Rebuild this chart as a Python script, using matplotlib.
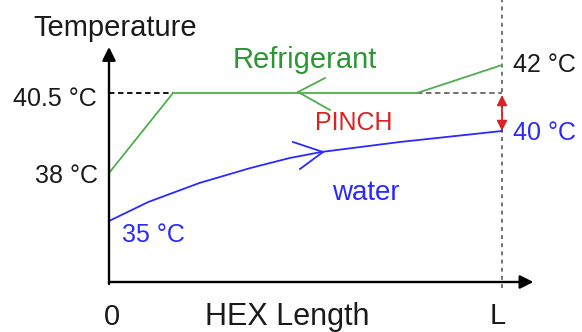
import numpy as np
import matplotlib.pyplot as plt

plt.rcParams['font.family'] = ['Liberation Sans', 'DejaVu Sans']

# position along the exchanger (0 = inlet, 1 = L) and schematic temperature level
ref_x = [0.0, 0.163, 0.784, 1.0]
ref_level = [109, 189, 189, 217]

water_x = [0.0, 0.10, 0.23, 0.36, 0.46, 0.54, 0.74, 1.0]
water_level = [61, 80, 99, 114, 124, 130, 140, 151]

pinch_level = 189     # 40.5 °C
outlet_level = 151    # 40 °C

green = '#4fad4f'
green_txt = '#2a9830'
blue = '#2a2aff'
red = '#dd2020'

fig = plt.figure(figsize=(5.82, 3.32), dpi=100)
ax = fig.add_axes([0, 0, 1, 1])
ax.axis('off')
ax.set_xlim(-109 / 393, 473 / 393)
ax.set_ylim(-50, 282)


def px(x, y):
    # pixel position -> data position, for labels
    return (x - 109) / 393, 282 - y


# axes with arrow heads
ax.annotate('', xy=(1.08, 0), xytext=(0, 0),
            arrowprops=dict(arrowstyle='-|>', color='k', lw=1.7,
                            mutation_scale=20, shrinkA=0, shrinkB=0))
ax.annotate('', xy=(0, 235), xytext=(0, -2),
            arrowprops=dict(arrowstyle='-|>', color='k', lw=1.7,
                            mutation_scale=20, shrinkA=0, shrinkB=0))

# exchanger end
ax.plot([1, 1], [-6, 282], ls=(0, (2, 2.2)), color='0.45', lw=1.4)

# guide lines at the pinch temperature
ax.plot([0, ref_x[1]], [pinch_level, pinch_level], ls=(0, (3, 2)), color='k', lw=1.3)
ax.plot([ref_x[2], 1], [pinch_level, pinch_level], ls=(0, (3, 2)), color='0.4', lw=1.3)

# streams
ax.plot(ref_x, ref_level, color=green, lw=1.3)
ax.plot(water_x, water_level, color=blue, lw=1.3)

# flow direction chevrons
tip = px(298, 92)
for arm in [px(325, 78), px(330, 110)]:
    ax.plot([tip[0], arm[0]], [tip[1], arm[1]], color=green, lw=1.3)
tip = px(323, 152)
for arm in [px(293, 142), px(300, 169)]:
    ax.plot([tip[0], arm[0]], [tip[1], arm[1]], color=blue, lw=1.3)

# pinch
ax.annotate('', xy=(1, pinch_level - 2), xytext=(1, outlet_level),
            arrowprops=dict(arrowstyle='<|-|>', color=red, lw=1.3,
                            mutation_scale=15, shrinkA=0, shrinkB=0))

# labels
def label(x, y, s, size, color='#1a1a1a', ha='left'):
    ax.text(*px(x, y), s, fontsize=size, color=color, ha=ha, va='baseline')


label(33, 36, 'Temperature', 21)
label(97, 106, '40.5 °C', 18, ha='right')
label(98, 183, '38 °C', 18, ha='right')
label(122, 242, '35 °C', 18, color=blue)
label(513, 72, '42 °C', 18)
label(513, 140, '40 °C', 18, color=blue)
label(315, 130, 'PINCH', 18, color=red)
label(332, 200, 'water', 20, color=blue)
label(233, 68, 'Refrigerant', 21, color=green_txt)
label(205, 325, 'HEX Length', 22)
label(112, 325, '0', 21, ha='center')
label(498, 324, 'L', 21, ha='center')

fig.savefig('out.png', dpi=100)
